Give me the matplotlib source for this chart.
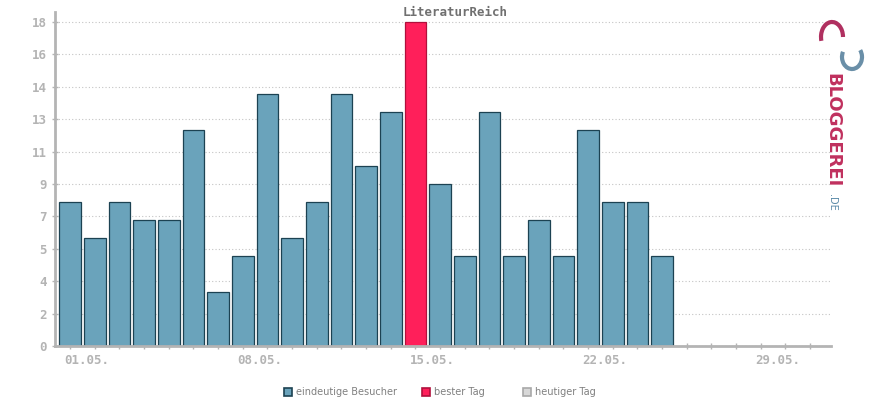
import matplotlib
matplotlib.use('Agg')
import matplotlib.pyplot as plt
from matplotlib.patches import Rectangle, Arc

days = list(range(1, 32))
visitors = [8, 6, 8, 7, 7, 12, 3, 5, 14, 6, 8, 14, 10, 13, 18, 9, 5, 13, 5, 7, 5, 12, 8, 8, 5]
best_day = 15
ytick_values = [0, 1.8, 3.6, 5.4, 7.2, 9, 10.8, 12.6, 14.4, 16.2, 18]
ytick_labels = ['0', '2', '4', '5', '7', '9', '11', '13', '14', '16', '18']
xtick_labels = {1: '01.05.', 8: '08.05.', 15: '15.05.', 22: '22.05.', 29: '29.05.'}
legend_labels = ['eindeutige Besucher', 'bester Tag', 'heutiger Tag']

blue = '#6aa3bb'
blue_edge = '#1c4252'
red = '#ff1f5a'
red_edge = '#b0103c'
grey = '#b4b4b4'
mono = 'DejaVu Sans Mono'

fig = plt.figure(figsize=(8.7, 4), dpi=100)
ax = fig.add_axes([55 / 870, 54 / 400, 776 / 870, 334 / 400])

# bars
for d, v in zip(days, visitors):
    fc, ec = (red, red_edge) if d == best_day else (blue, blue_edge)
    ax.bar(d, v, width=0.88, color=fc, edgecolor=ec, linewidth=0.9, zorder=3)

ax.set_xlim(0.39, 31.85)
ax.set_ylim(0, 18.55)

ax.set_yticks(ytick_values)
ax.set_yticklabels(ytick_labels)
ax.set_xticks(days)
ax.set_xticklabels([''] * len(days))
for d, lab in xtick_labels.items():
    ax.annotate(lab, xy=(d, 0), xycoords='data', xytext=(-4, -6), textcoords='offset points',
                ha='left', va='top', fontsize=9, family=mono, fontweight='bold', color=grey)

ax.yaxis.grid(True, linestyle=(0, (1, 2)), color='#c4c4c4', linewidth=0.8, zorder=0)
for s in ['top', 'right']:
    ax.spines[s].set_visible(False)
for s in ['left', 'bottom']:
    ax.spines[s].set_color(grey)
    ax.spines[s].set_linewidth(2)
    ax.spines[s].set_zorder(4)
ax.tick_params(axis='both', colors=grey, length=4, width=1, direction='inout')
ax.tick_params(axis='y', labelsize=9, pad=4)
for t in ax.get_yticklabels():
    t.set_fontfamily(mono)
    t.set_fontweight('bold')

fig.text(455 / 870, 1 - 12 / 400, 'LiteraturReich', ha='center', va='center',
         fontsize=9, family=mono, fontweight='bold', color='#707070')

# legend
legend_items = [(284, blue, blue_edge), (422, red, red_edge), (523, '#d8d8d8', '#a8a8a8')]
for (x, fc, ec), lab in zip(legend_items, legend_labels):
    fig.patches.append(Rectangle((x / 870, 1 - 396 / 400), 8 / 870, 8 / 400, transform=fig.transFigure,
                                 facecolor=fc, edgecolor=ec, linewidth=1.2))
    fig.text((x + 12) / 870, 1 - 392 / 400, lab, ha='left', va='center', fontsize=7, color='#808080')

# logo
lax = fig.add_axes([810 / 870, 1 - 75 / 400, 60 / 870, 60 / 400])
lax.set_xlim(0, 60)
lax.set_ylim(0, 60)
lax.axis('off')
lax.add_patch(Arc((22, 38), 22, 30, theta1=0, theta2=200, color='#b03060', lw=3))
lax.add_patch(Arc((42, 18), 20, 24, theta1=150, theta2=400, color='#6a8fa8', lw=3))
fig.text(832 / 870, 1 - 73 / 400, 'BLOGGEREI', rotation=-90, ha='center', va='top',
         fontsize=13, color='#c0305e', fontweight='bold')
fig.text(832 / 870, 1 - 194 / 400, '.DE', rotation=-90, ha='center', va='top',
         fontsize=7, color='#5a8aa8')

fig.savefig('out.png', dpi=100)
